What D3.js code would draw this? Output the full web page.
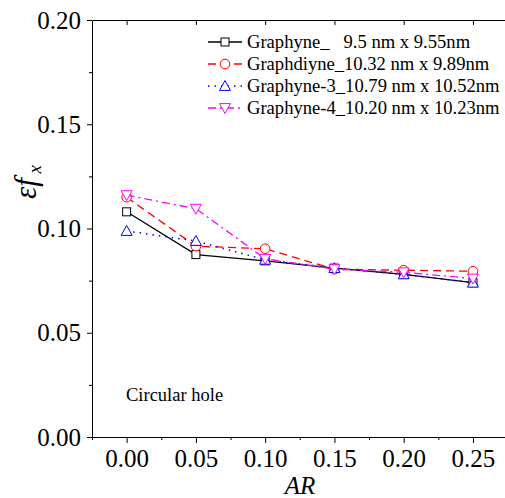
<!DOCTYPE html>
<html><head><meta charset="utf-8">
<script src="https://cdn.jsdelivr.net/npm/d3@7"></script>
<style>body{margin:0;background:#fff;}svg{display:block;} text{font-family:"Liberation Serif","Times New Roman",serif !important;}</style>
</head><body>
<svg id="c" width="505" height="498"></svg>
<script>
const arValues = [0.00, 0.05, 0.10, 0.15, 0.20, 0.25];
const graphyne   = [0.108, 0.0875, 0.0845, 0.081, 0.078, 0.074];
const graphdiyne = [0.115, 0.0915, 0.0903, 0.0805, 0.0800, 0.0795];
const graphyne3  = [0.0988, 0.0940, 0.0850, 0.0810, 0.0780, 0.0740];
const graphyne4  = [0.116, 0.1095, 0.0855, 0.0805, 0.0790, 0.0760];
const seriesNames = ["Graphyne_\u00a0\u00a0\u00a09.5 nm x 9.55nm", "Graphdiyne_10.32 nm x 9.89nm", "Graphyne-3_10.79 nm x 10.52nm", "Graphyne-4_10.20 nm x 10.23nm"];
const xTicks = [0.00, 0.05, 0.10, 0.15, 0.20, 0.25];
const yTicks = [0.00, 0.05, 0.10, 0.15, 0.20];

const svg = d3.select("#c");
const L = 92, R = 507.6, T = 20, B = 437;
const x = d3.scaleLinear().domain([-0.025, 0.275]).range([L, R]);
const y = d3.scaleLinear().domain([0, 0.20]).range([B, T]);

const series = [
  {vals: graphyne,   color: "#000000", dash: null,        marker: "square"},
  {vals: graphdiyne, color: "#ff0000", dash: "8,5",       marker: "circle"},
  {vals: graphyne3,  color: "#0000ff", dash: "1.5,5",     marker: "up"},
  {vals: graphyne4,  color: "#ff00ff", dash: "8,4,2,4",   marker: "down"}
];

const fmt = d3.format(".2f");
const minorX = d3.range(-0.025, 0.276, 0.025).map(v => +v.toFixed(3));
const minorY = d3.range(0.025, 0.2, 0.05).map(v => +v.toFixed(3));

svg.append("g").attr("transform", `translate(0,${B})`)
  .call(d3.axisBottom(x).tickValues(xTicks).tickFormat(fmt).tickSizeInner(6).tickSizeOuter(0).tickPadding(6));
svg.append("g").attr("transform", `translate(0,${B})`)
  .call(d3.axisBottom(x).tickValues(minorX.filter(v => !xTicks.some(t => Math.abs(t - v) < 1e-6))).tickFormat("").tickSizeInner(3).tickSizeOuter(0))
  .select(".domain").remove();
svg.append("g").attr("transform", `translate(0,${T})`)
  .call(d3.axisBottom(x).tickValues(xTicks).tickFormat("").tickSizeInner(5).tickSizeOuter(0));
svg.append("g").attr("transform", `translate(${L},0)`)
  .call(d3.axisLeft(y).tickValues(yTicks).tickFormat(fmt).tickSizeInner(5).tickSizeOuter(0).tickPadding(6));
svg.append("g").attr("transform", `translate(${L},0)`)
  .call(d3.axisLeft(y).tickValues(minorY).tickFormat("").tickSizeInner(3).tickSizeOuter(0))
  .select(".domain").remove();

svg.selectAll("g").attr("font-family", null);
svg.selectAll(".tick text").attr("font-size", 25).attr("fill", "#000");
svg.selectAll(".domain, .tick line").attr("stroke", "#000").attr("stroke-width", 1);

svg.append("text").attr("x", 300).attr("y", 494).attr("text-anchor", "middle")
  .attr("font-size", 25).attr("font-style", "italic").text("AR");
const yl = svg.append("text").attr("transform", "translate(36,182) rotate(-90)").attr("text-anchor", "middle")
  .attr("font-style", "italic");
yl.append("tspan").attr("font-size", 31).text("εf");
yl.append("tspan").attr("font-size", 19).attr("dy", 5).text(" x");

function drawMarker(g, type, cx, cy, color) {
  if (type === "square") {
    g.append("rect").attr("x", cx - 4).attr("y", cy - 4).attr("width", 8).attr("height", 8)
      .attr("fill", "#fff").attr("stroke", color).attr("stroke-width", 1);
  } else if (type === "circle") {
    g.append("circle").attr("cx", cx).attr("cy", cy).attr("r", 4.8)
      .attr("fill", "#fff").attr("stroke", color).attr("stroke-width", 1);
  } else {
    const s = 5.5, dir = type === "up" ? 1 : -1;
    const pts = [[cx, cy - dir * s], [cx - s, cy + dir * s * 0.8], [cx + s, cy + dir * s * 0.8]];
    g.append("polygon").attr("points", pts.map(p => p.join(",")).join(" "))
      .attr("fill", "#fff").attr("stroke", color).attr("stroke-width", 1);
  }
}

const line = d3.line().x((d, i) => x(arValues[i])).y(d => y(d));
const plot = svg.append("g");
series.forEach(s => {
  plot.append("path").datum(s.vals).attr("d", line).attr("fill", "none")
    .attr("stroke", s.color).attr("stroke-width", s.marker === "up" ? 1.5 : 1.3)
    .attr("stroke-dasharray", s.dash);
  s.vals.forEach((v, i) => drawMarker(plot, s.marker, x(arValues[i]), y(v), s.color));
});

const leg = svg.append("g");
const legY0 = 42, legDy = 22;
series.forEach((s, i) => {
  const yy = legY0 + i * legDy;
  leg.append("line").attr("x1", 208).attr("x2", 242).attr("y1", yy).attr("y2", yy)
    .attr("stroke", s.color).attr("stroke-width", s.marker === "up" ? 1.5 : 1.3).attr("stroke-dasharray", s.dash);
  drawMarker(leg, s.marker, 225, yy, s.color);
  leg.append("text").attr("x", 247).attr("y", yy + 6).attr("font-size", 18.6).text(seriesNames[i]);
});

svg.append("text").attr("x", 126).attr("y", 401).attr("font-size", 18.5).text("Circular hole");
</script>
</body></html>
